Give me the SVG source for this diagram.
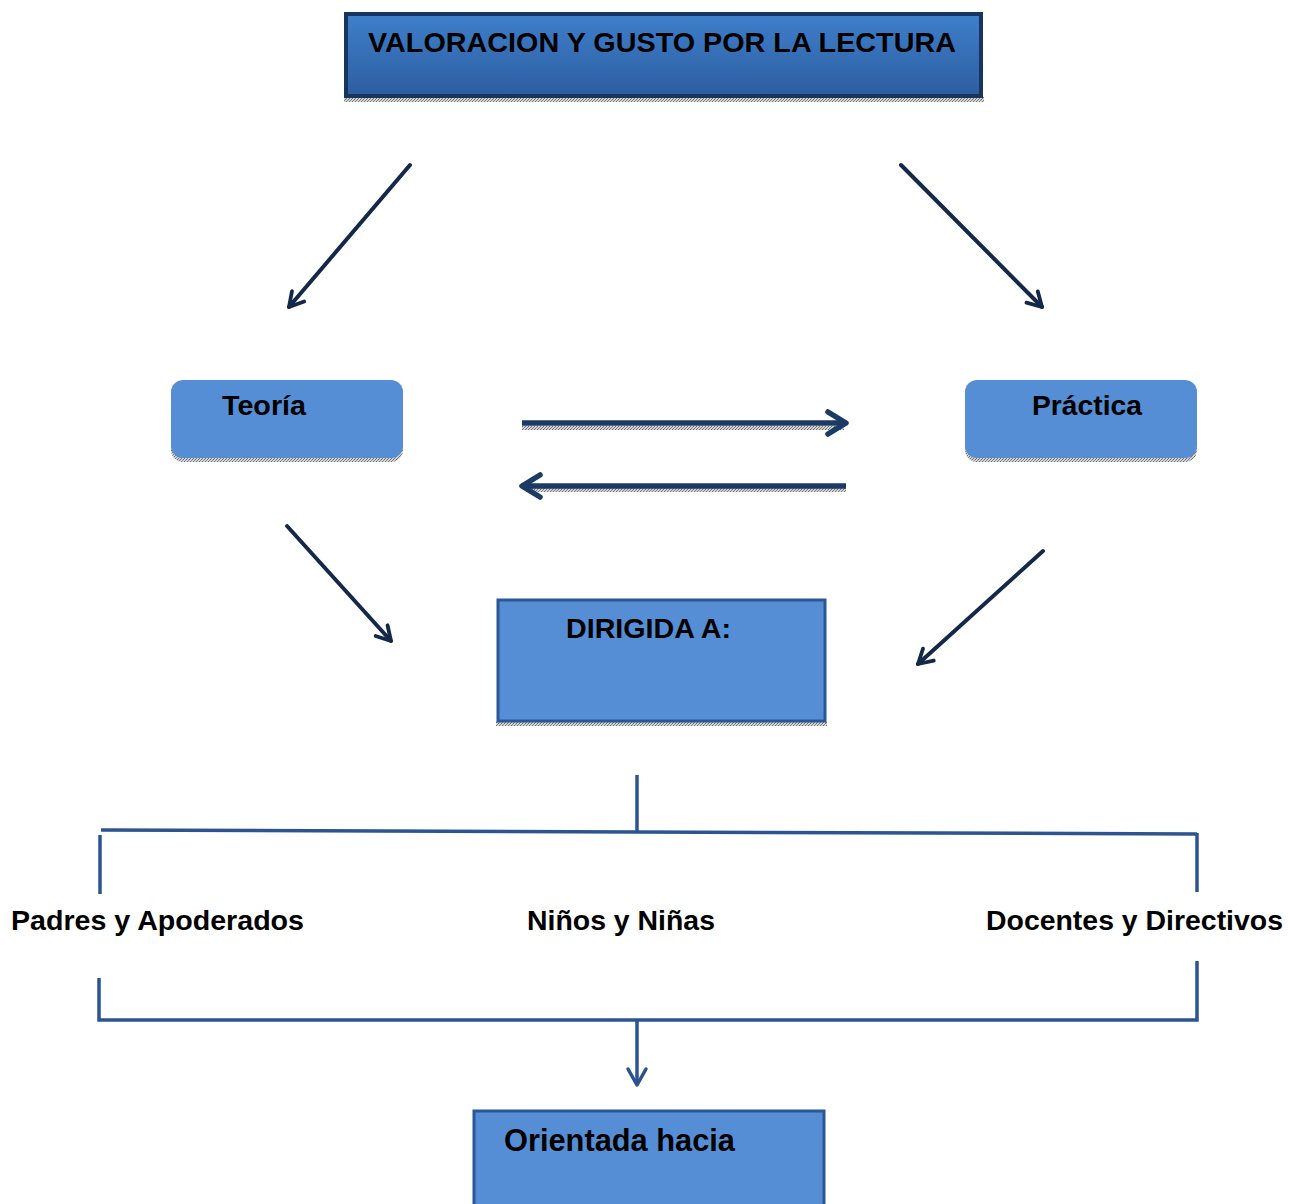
<svg xmlns="http://www.w3.org/2000/svg" width="1290" height="1204" viewBox="0 0 1290 1204">
<defs>
<linearGradient id="topGrad" x1="0" y1="0" x2="0" y2="1">
<stop offset="0" stop-color="#3f7fcc"/>
<stop offset="1" stop-color="#2c5e9f"/>
</linearGradient>
<pattern id="hatch" width="3" height="3" patternUnits="userSpaceOnUse">
<rect width="3" height="3" fill="#d0d0d0"/>
<rect width="1" height="1" fill="#6e6e6e"/>
<rect x="2" y="1" width="1" height="1" fill="#8a8a8a"/>
<rect x="1" y="2" width="1" height="1" fill="#7a7a7a"/>
</pattern>
<marker id="chev" viewBox="0 0 20 20" refX="17" refY="10" markerWidth="20" markerHeight="20" markerUnits="userSpaceOnUse" orient="auto">
<path d="M3,2 L17,10 L3,18" fill="none" stroke="#14284a" stroke-width="3.8" stroke-linecap="round" stroke-linejoin="round"/>
</marker>
<marker id="chevBig" viewBox="0 0 26 30" refX="22" refY="15" markerWidth="26" markerHeight="30" markerUnits="userSpaceOnUse" orient="auto">
<path d="M4,4 L22,15 L4,26" fill="none" stroke="#1b3a66" stroke-width="5.5" stroke-linecap="round" stroke-linejoin="round"/>
</marker>
<marker id="chevBlue" viewBox="0 0 24 24" refX="20" refY="12" markerWidth="24" markerHeight="24" markerUnits="userSpaceOnUse" orient="auto">
<path d="M4,3 L20,12 L4,21" fill="none" stroke="#2a5290" stroke-width="3.5" stroke-linecap="round" stroke-linejoin="round"/>
</marker>
</defs>
<style>
.t{font-family:"Liberation Sans",Arial,sans-serif;font-weight:bold;fill:#000}
.lbl{font-size:28.5px}
.box{fill:#558ed5}
.diag{stroke:#14284a;stroke-width:4;fill:none;stroke-linecap:round;marker-end:url(#chev)}
.big{stroke:#1b3a66;stroke-width:5.5;fill:none;marker-end:url(#chevBig)}
.br{stroke:#2b5491;stroke-width:3.5;fill:none}
</style>
<rect width="1290" height="1204" fill="#fff"/>

<g id="node-valoracion">
<rect x="344" y="97" width="640" height="5" fill="url(#hatch)"/>
<rect x="346" y="14" width="635" height="82" fill="url(#topGrad)" stroke="#17365d" stroke-width="4"/>
<text class="t lbl" x="368" y="52" textLength="588" lengthAdjust="spacingAndGlyphs">VALORACION Y GUSTO POR LA LECTURA</text>
</g>

<g id="node-teoria">
<rect x="171" y="384" width="232" height="78" rx="12" fill="url(#hatch)"/>
<rect x="171" y="380" width="232" height="78" rx="12" class="box"/>
<text class="t lbl" x="222" y="415" textLength="84" lengthAdjust="spacingAndGlyphs">Teoría</text>
</g>

<g id="node-practica">
<rect x="965" y="384" width="232" height="78" rx="12" fill="url(#hatch)"/>
<rect x="965" y="380" width="232" height="78" rx="12" class="box"/>
<text class="t lbl" x="1032" y="415" textLength="110" lengthAdjust="spacingAndGlyphs">Práctica</text>
</g>

<g id="node-dirigida">
<rect x="496" y="721" width="331" height="5" fill="url(#hatch)"/>
<rect x="498" y="600" width="327" height="121" class="box" stroke="#2b5797" stroke-width="3"/>
<text class="t lbl" x="566" y="638" textLength="165" lengthAdjust="spacingAndGlyphs">DIRIGIDA A:</text>
</g>

<g id="node-padres">
<text class="t lbl" x="11" y="930" textLength="293" lengthAdjust="spacingAndGlyphs">Padres y Apoderados</text>
</g>
<g id="node-ninos">
<text class="t lbl" x="527" y="930" textLength="188" lengthAdjust="spacingAndGlyphs">Niños y Niñas</text>
</g>
<g id="node-docentes">
<text class="t lbl" x="986" y="930" textLength="297" lengthAdjust="spacingAndGlyphs">Docentes y Directivos</text>
</g>

<g id="node-orientada">
<rect x="474" y="1111" width="350" height="100" class="box" stroke="#2b5797" stroke-width="3"/>
<text class="t" font-size="31" x="504" y="1151" textLength="231" lengthAdjust="spacingAndGlyphs">Orientada hacia</text>
</g>

<g id="connectors">
<line class="diag" x1="410" y1="165" x2="289" y2="307"/>
<line class="diag" x1="901" y1="165" x2="1042" y2="307"/>
<line class="diag" x1="287" y1="526" x2="391" y2="641"/>
<line class="diag" x1="1043" y1="551" x2="918" y2="664"/>

<rect x="522" y="426" width="322" height="4" fill="url(#hatch)"/>
<line class="big" x1="522" y1="423" x2="846" y2="423"/>
<rect x="526" y="488" width="320" height="4" fill="url(#hatch)"/>
<line class="big" x1="846" y1="486" x2="522" y2="486"/>

<line class="br" x1="637" y1="775" x2="637" y2="831"/>
<line class="br" x1="101" y1="830" x2="1197" y2="834"/>
<line class="br" x1="100" y1="835" x2="100" y2="894"/>
<line class="br" x1="1197" y1="833" x2="1197" y2="892"/>

<polyline class="br" points="99,978 99,1020 1197,1020 1197,961"/>
<line class="br" x1="637" y1="1020" x2="637" y2="1085" marker-end="url(#chevBlue)"/>
</g>
</svg>
